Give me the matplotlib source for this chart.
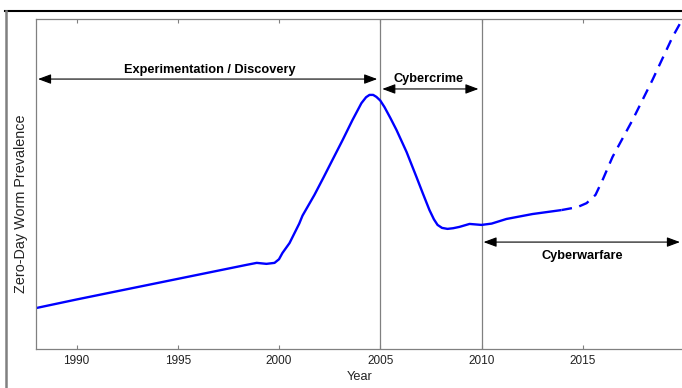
import matplotlib
matplotlib.use("Agg")
import matplotlib.pyplot as plt
from matplotlib.lines import Line2D

plt.rcParams['font.family'] = ['Liberation Sans', 'DejaVu Sans']

# Solid (observed) part of the curve
years_solid = [1988, 1990, 1992, 1994, 1996, 1998, 1998.4, 1998.9, 1999.38, 1999.78,
               2000.0, 2000.17, 2000.52, 2001.0, 2001.16, 2001.75, 2002.2, 2002.64,
               2003.14, 2003.63, 2004.07, 2004.3, 2004.47, 2004.65, 2004.81, 2005.0,
               2005.21, 2005.5, 2005.8, 2006.3, 2006.79, 2007.1, 2007.43, 2007.65,
               2007.83, 2008.05, 2008.32, 2008.6, 2008.91, 2009.41, 2010.0, 2010.5,
               2011.23, 2012.52, 2013.95]
prev_solid = [12.4, 15.0, 17.5, 20.0, 22.5, 25.0, 25.5, 26.1, 25.8, 26.1,
              27.2, 29.1, 32.1, 38.0, 40.4, 46.7, 52.0, 57.3,
              63.3, 69.4, 74.5, 76.3, 77.0, 77.0, 76.4, 75.3,
              73.3, 70.0, 66.4, 59.7, 52.1, 47.2, 42.1, 39.3,
              37.6, 36.7, 36.4, 36.6, 37.0, 37.9, 37.6, 38.0,
              39.4, 40.9, 42.1]

# Dashed (projected) part
years_dash = [2013.95, 2014.74, 2015.19, 2015.63, 2016.0, 2016.47, 2017.46, 2018.44, 2019.43, 2019.9]
prev_dash = [42.1, 43.0, 44.2, 46.7, 51.5, 58.2, 69.4, 81.5, 94.5, 99.7]

xticks = [1990, 1995, 2000, 2005, 2010, 2015]
era_bounds = [2005, 2010]

fig = plt.figure(figsize=(6.82, 3.88), dpi=100)
ax = fig.add_axes([36/682, 39/388, 648/682, 330/388])

ax.plot(years_solid, prev_solid, color='#0000ff', lw=1.7, solid_capstyle='butt',
        solid_joinstyle='round')
ax.plot(years_dash, prev_dash, color='#0000ff', lw=1.7, ls=(0, (4.5, 3.2)))

for b in era_bounds:
    ax.axvline(b, color='#808080', lw=0.9, zorder=0)

arrow = dict(arrowstyle='<|-|>,head_length=0.75,head_width=0.28', color='black',
             lw=0.8, mutation_scale=10.5, shrinkA=0, shrinkB=0)
fs = 9.2
ax.annotate('', xy=(1988.1, 81.8), xytext=(2004.85, 81.8), arrowprops=arrow)
ax.text(1996.6, 84.5, 'Experimentation / Discovery', ha='center', va='center',
        fontsize=fs, fontweight='bold')
ax.annotate('', xy=(2005.1, 78.8), xytext=(2009.85, 78.8), arrowprops=arrow)
ax.text(2007.4, 81.9, 'Cybercrime', ha='center', va='center',
        fontsize=fs, fontweight='bold')
ax.annotate('', xy=(2010.1, 32.4), xytext=(2019.8, 32.4), arrowprops=arrow)
ax.text(2015.0, 28.3, 'Cyberwarfare', ha='center', va='center',
        fontsize=fs, fontweight='bold')

ax.set_xlim(1988, 2020)
ax.set_ylim(0, 100)
ax.set_xticks(xticks)
ax.set_xticklabels([str(t) for t in xticks])
ax.set_yticks([])
ax.tick_params(axis='x', direction='in', length=3, width=0.8, top=True,
               color='#808080', labelsize=8.5, pad=4, labelcolor='#222222')
for s in ax.spines.values():
    s.set_color('#808080')
    s.set_linewidth(0.9)

ax.set_xlabel('Year', fontsize=9.2, labelpad=3, color='#222222')
ax.set_ylabel('Zero-Day Worm Prevalence', fontsize=10.4, color='#222222')
ax.yaxis.set_label_coords(-8/648, 0.44)

# outer frame
fig.add_artist(Line2D([5/682, 1.0], [1 - 10.5/388, 1 - 10.5/388],
                      transform=fig.transFigure, color='black', lw=1.5))
fig.add_artist(Line2D([5.5/682, 5.5/682], [0, 1 - 10.5/388],
                      transform=fig.transFigure, color='#808080', lw=1.8))

fig.savefig('out.png', dpi=100)
